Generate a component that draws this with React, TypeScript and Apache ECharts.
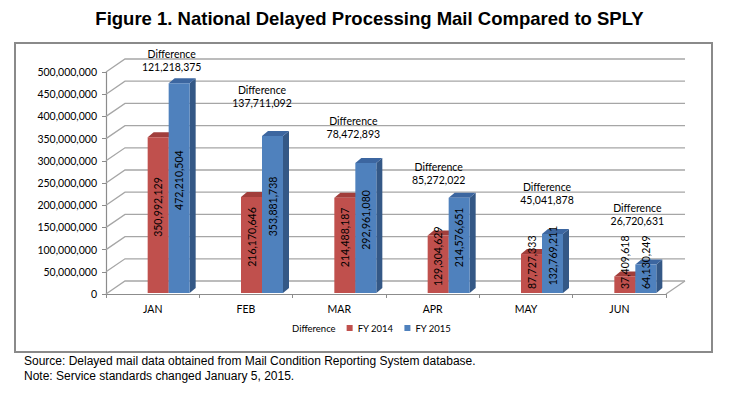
import React, { useEffect, useRef } from "react";
import * as echarts from "echarts";

const categories = ["JAN", "FEB", "MAR", "APR", "MAY", "JUN"];
const fy2014 = [350992129, 216170646, 214488187, 129304629, 87727333, 37409618];
const fy2015 = [472210504, 353881738, 292961080, 214576651, 132769211, 64130249];
const difference = [121218375, 137711092, 78472893, 85272022, 45041878, 26720631];
const yTicks = [0, 50000000, 100000000, 150000000, 200000000, 250000000, 300000000, 350000000, 400000000, 450000000, 500000000];

const titleText = "Figure 1. National Delayed Processing Mail Compared to SPLY";
const sourceNote = "Source: Delayed mail data obtained from Mail Condition Reporting System database.";
const serviceNote = "Note: Service standards changed January 5, 2015.";

// style / layout constants
const FONT = "Lato";
const LABEL_SIZE = 10.5;
const WALL_DX = 19;
const WALL_DY = -13;
const BAR_W = 21;
const SHIFT_X = 16;
const SHIFT_Y = -1;
const DEPTH_X = 6;
const DEPTH_Y = -5;
const diffLift = [16, 33, 29, 18, 34, 44];
const diffNudgeX = [3, 0, -2, -10, 5, 2];

const RED = { front: "#c0504d", top: "#a13e3b", side: "#8b3330" };
const BLUE = { front: "#4f81bd", top: "#3c66a0", side: "#345886" };

const fmt = (v: number) => Math.round(v).toLocaleString("en-US");

let measureCtx: CanvasRenderingContext2D | null = null;
function textWidth(t: string, size: number) {
  if (!measureCtx) measureCtx = document.createElement("canvas").getContext("2d");
  if (!measureCtx) return t.length * size * 0.55;
  measureCtx.font = `${size}px ${FONT}`;
  return measureCtx.measureText(t).width;
}

function barRenderer(side: 0 | 1, c: { front: string; top: string; side: string }) {
  return (params: any, api: any) => {
    const idx = api.value(0);
    const val = api.value(1);
    const top = api.coord([idx, val]);
    const base = api.coord([idx, 0]);
    const x0 = top[0] + SHIFT_X + (side === 0 ? -BAR_W : 0);
    const x1 = x0 + BAR_W;
    const yT = top[1] + SHIFT_Y;
    const yB = base[1] + SHIFT_Y;
    const label = fmt(val);
    const half = textWidth(label, LABEL_SIZE) / 2;
    const labelY = Math.min((yT + yB) / 2 - 8, yB - 4 - half);
    return {
      type: "group",
      children: [
        {
          type: "polygon",
          shape: { points: [[x1, yT], [x1 + DEPTH_X, yT + DEPTH_Y], [x1 + DEPTH_X, yB + DEPTH_Y], [x1, yB]] },
          style: { fill: c.side },
        },
        {
          type: "polygon",
          shape: { points: [[x0, yT], [x0 + DEPTH_X, yT + DEPTH_Y], [x1 + DEPTH_X, yT + DEPTH_Y], [x1, yT]] },
          style: { fill: c.top },
        },
        {
          type: "rect",
          shape: { x: x0, y: yT, width: BAR_W, height: yB - yT },
          style: { fill: c.front },
        },
        {
          type: "text",
          x: (x0 + x1) / 2,
          y: labelY,
          rotation: Math.PI / 2,
          z2: 10,
          style: {
            text: label,
            fontFamily: FONT,
            fontSize: LABEL_SIZE,
            fill: "#000",
            align: "center",
            verticalAlign: "middle",
          },
        },
      ],
    };
  };
}

export default function App() {
  const ref = useRef<HTMLDivElement>(null);
  useEffect(() => {
    if (!ref.current) return;
    const chart = echarts.init(ref.current, undefined, { renderer: "svg" });
    chart.setOption({
      animation: false,
      backgroundColor: "#ffffff",
      title: {
        text: titleText,
        left: "center",
        top: 4,
        textStyle: { fontFamily: "Liberation Sans", fontWeight: "bold", fontSize: 18.5, color: "#000" },
      },
      legend: {
        left: 276,
        top: 318,
        itemWidth: 6,
        itemHeight: 6,
        itemGap: 11,
        selectedMode: false,
        textStyle: { fontFamily: FONT, fontSize: 9.5, color: "#000" },
        data: [
          { name: "Difference", icon: "none" },
          { name: "FY 2014", icon: "rect" },
          { name: "FY 2015", icon: "rect" },
        ],
      },
      grid: { left: 106, right: 73, top: 72, bottom: 103, containLabel: false },
      xAxis: {
        type: "category",
        data: categories,
        axisLine: { lineStyle: { color: "#8c8c8c", width: 1.2 } },
        axisTick: { show: true, length: 4, lineStyle: { color: "#8c8c8c" } },
        axisLabel: { margin: 9, fontFamily: FONT, fontSize: LABEL_SIZE, color: "#000" },
      },
      yAxis: {
        type: "value",
        min: 0,
        max: 500000000,
        interval: 50000000,
        axisLine: { show: true, lineStyle: { color: "#8c8c8c", width: 1.2 } },
        axisTick: { show: true, length: 4, lineStyle: { color: "#8c8c8c" } },
        splitLine: { show: false },
        axisLabel: {
          margin: 9,
          fontFamily: FONT,
          fontSize: LABEL_SIZE,
          color: "#000",
          formatter: (v: number) => fmt(v),
        },
      },
      graphic: [
        {
          type: "rect",
          z: -10,
          shape: { x: 15, y: 43, width: 697, height: 309 },
          style: { fill: "none", stroke: "#8a8a8a", lineWidth: 2 },
        },
        {
          type: "text",
          left: 24,
          top: 355,
          style: { text: sourceNote, fontFamily: "Liberation Sans", fontSize: 12, fill: "#000" },
        },
        {
          type: "text",
          left: 24,
          top: 370,
          style: { text: serviceNote, fontFamily: "Liberation Sans", fontSize: 12, fill: "#000" },
        },
      ],
      series: [
        {
          type: "custom",
          name: "wall",
          silent: true,
          z: 1,
          data: yTicks.map((v) => [0, v]),
          renderItem: (params: any, api: any) => {
            const cs = params.coordSys;
            const y = api.coord([0, api.value(1)])[1];
            const xL = cs.x;
            const xR = cs.x + cs.width;
            const children: any[] = [
              {
                type: "polyline",
                shape: { points: [[xL, y], [xL + WALL_DX, y + WALL_DY], [xR + WALL_DX, y + WALL_DY]] },
                style: { stroke: "#a6a6a6", lineWidth: 1.3, fill: "none" },
              },
            ];
            if (api.value(1) === 0) {
              children.push({
                type: "line",
                shape: { x1: xR, y1: y, x2: xR + WALL_DX, y2: y + WALL_DY },
                style: { stroke: "#a6a6a6", lineWidth: 1.3 },
              });
            }
            return { type: "group", children };
          },
        },
        {
          type: "custom",
          name: "Difference",
          z: 5,
          itemStyle: { color: "rgba(0,0,0,0)" },
          data: fy2015.map((v, i) => [i, v, difference[i]]),
          renderItem: (params: any, api: any) => {
            const i = params.dataIndex;
            const p = api.coord([api.value(0), api.value(1)]);
            const cx = p[0] + SHIFT_X + diffNudgeX[i];
            const yv = p[1] + SHIFT_Y - diffLift[i];
            return {
              type: "group",
              children: [
                {
                  type: "text",
                  x: cx,
                  y: yv - 13,
                  style: { text: "Difference", fontFamily: FONT, fontSize: LABEL_SIZE, fill: "#000", align: "center", verticalAlign: "middle" },
                },
                {
                  type: "text",
                  x: cx,
                  y: yv,
                  style: { text: fmt(api.value(2)), fontFamily: FONT, fontSize: LABEL_SIZE, fill: "#000", align: "center", verticalAlign: "middle" },
                },
              ],
            };
          },
        },
        {
          type: "custom",
          name: "FY 2014",
          z: 3,
          itemStyle: { color: RED.front },
          data: fy2014.map((v, i) => [i, v]),
          renderItem: barRenderer(0, RED),
        },
        {
          type: "custom",
          name: "FY 2015",
          z: 4,
          itemStyle: { color: BLUE.front },
          data: fy2015.map((v, i) => [i, v]),
          renderItem: barRenderer(1, BLUE),
        },
      ],
    });
    return () => chart.dispose();
  }, []);
  return (
    <div
      ref={ref}
      style={{ position: "fixed", left: 0, top: 0, width: 739, height: 397, background: "#fff" }}
    />
  );
}
